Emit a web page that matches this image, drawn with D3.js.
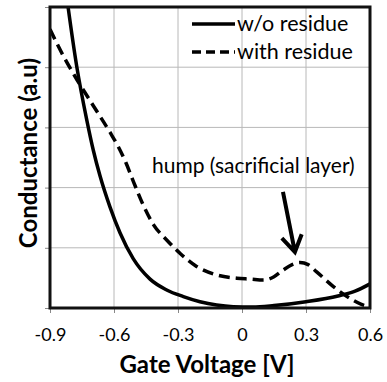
<!DOCTYPE html>
<html><head><meta charset="utf-8">
<script src="https://cdn.jsdelivr.net/npm/d3@7"></script>
<style>body{margin:0;background:#fff}svg{display:block}text{font-family:Lato,"Open Sans",sans-serif;fill:#000}</style>
</head><body>
<svg id="c" width="387" height="382"></svg>
<script>
const xTicks = [-0.9, -0.6, -0.3, 0, 0.3, 0.6];
const xTickLabels = ["-0.9", "-0.6", "-0.3", "0", "0.3", "0.6"];
const yTicks = [0, 1, 2, 3, 4, 5];
const seriesNames = ["w/o residue", "with residue"];
const solidV = [-0.834, -0.816, -0.775, -0.728, -0.697, -0.666, -0.619, -0.572, -0.51, -0.431, -0.353, -0.275, -0.197, -0.119, -0.041, 0.05, 0.15, 0.3, 0.45, 0.53, 0.6];
const solidG = [5.5, 5.02, 4.02, 3.13, 2.62, 2.2, 1.68, 1.25, 0.82, 0.48, 0.3, 0.19, 0.105, 0.05, 0.022, 0.015, 0.04, 0.105, 0.2, 0.28, 0.4];
const dashV = [-0.9, -0.838, -0.775, -0.697, -0.619, -0.58, -0.545, -0.509, -0.463, -0.416, -0.353, -0.291, -0.213, -0.119, -0.025, 0.04, 0.1, 0.15, 0.193, 0.235, 0.272, 0.31, 0.35, 0.427, 0.506, 0.56, 0.6];
const dashG = [4.63, 4.19, 3.8, 3.36, 2.92, 2.68, 2.42, 2.1, 1.71, 1.39, 1.13, 0.91, 0.69, 0.55, 0.495, 0.48, 0.465, 0.52, 0.63, 0.72, 0.755, 0.72, 0.6, 0.36, 0.16, 0.06, 0.02];
const annotation = {text: "hump (sacrificial layer)", labelV: -0.422, labelG: 2.25, fromV: 0.192, fromG: 1.93, toV: 0.248, toG: 0.93};

const m = {l: 50, t: 7, r: 17, b: 74};
const W = 387, H = 382;
const w = W - m.l - m.r, h = H - m.t - m.b;
const svg = d3.select("#c");
const x = d3.scaleLinear().domain([-0.9, 0.6]).range([m.l, m.l + w]);
const y = d3.scaleLinear().domain([0, 5]).range([m.t + h, m.t]);

svg.append("defs").append("clipPath").attr("id", "clip")
  .append("rect").attr("x", m.l).attr("y", m.t).attr("width", w).attr("height", h);

// gridlines
const g = svg.append("g");
g.selectAll(".gx").data(xTicks).join("line")
  .attr("x1", d => x(d)).attr("x2", d => x(d)).attr("y1", m.t).attr("y2", m.t + h)
  .attr("stroke", "#b8b8b8").attr("stroke-width", 1);
g.selectAll(".gy").data(yTicks).join("line")
  .attr("y1", d => y(d)).attr("y2", d => y(d)).attr("x1", m.l).attr("x2", m.l + w)
  .attr("stroke", "#b8b8b8").attr("stroke-width", 1);

// axes
const xAxis = svg.append("g").attr("transform", `translate(0,${m.t + h})`)
  .call(d3.axisBottom(x).tickValues(xTicks).tickFormat((d, i) => xTickLabels[i]).tickSize(5).tickPadding(15));
xAxis.select(".domain").remove();
xAxis.selectAll(".tick line").attr("stroke", "#888");
xAxis.selectAll("text").attr("font-size", 18).attr("font-family", "Lato");
const yAxis = svg.append("g").attr("transform", `translate(${m.l},0)`)
  .call(d3.axisLeft(y).tickValues(yTicks).tickFormat("").tickSize(5));
yAxis.select(".domain").remove();
yAxis.selectAll(".tick line").attr("stroke", "#888");

// lines
const line = d3.line().x(d => x(d[0])).y(d => y(d[1])).curve(d3.curveMonotoneX);
const plot = svg.append("g").attr("clip-path", "url(#clip)");
plot.append("path").datum(solidV.map((v, i) => [v, solidG[i]]))
  .attr("d", line).attr("fill", "none").attr("stroke", "#000").attr("stroke-width", 3.5);
plot.append("path").datum(dashV.map((v, i) => [v, dashG[i]]))
  .attr("d", line).attr("fill", "none").attr("stroke", "#000").attr("stroke-width", 3.5)
  .attr("stroke-dasharray", "11,6");

// frame
svg.append("rect").attr("x", m.l).attr("y", m.t).attr("width", w).attr("height", h)
  .attr("fill", "none").attr("stroke", "#111").attr("stroke-width", 3);

// legend
const leg = svg.append("g").attr("transform", `translate(${m.l + w - 178},${m.t + 17})`);
seriesNames.forEach((n, i) => {
  leg.append("line").attr("x1", 0).attr("x2", 43).attr("y1", i * 28).attr("y2", i * 28)
    .attr("stroke", "#000").attr("stroke-width", 3.5).attr("stroke-dasharray", i ? "9,5" : null);
  leg.append("text").attr("x", 45).attr("y", i * 28 + 7).attr("font-size", 21.5).text(n);
});

// annotation
svg.append("text").attr("x", x(annotation.labelV)).attr("y", y(annotation.labelG))
  .attr("font-size", 21).text(annotation.text);
const ax0 = x(annotation.fromV), ay0 = y(annotation.fromG), ax1 = x(annotation.toV), ay1 = y(annotation.toG);
const ang = Math.atan2(ay0 - ay1, ax0 - ax1), hl = 19, ha = Math.PI / 5.6;
svg.append("path")
  .attr("d", `M${ax0},${ay0}L${ax1},${ay1}M${ax1 + hl * Math.cos(ang - ha)},${ay1 + hl * Math.sin(ang - ha)}L${ax1},${ay1}L${ax1 + hl * Math.cos(ang + ha)},${ay1 + hl * Math.sin(ang + ha)}`)
  .attr("fill", "none").attr("stroke", "#000").attr("stroke-width", 4).attr("stroke-linejoin", "miter");

// titles
svg.append("text").attr("x", 207).attr("y", 373).attr("text-anchor", "middle")
  .attr("font-size", 24).attr("font-weight", "bold").text("Gate Voltage [V]");
svg.append("text").attr("transform", `translate(37,153)rotate(-90)`).attr("text-anchor", "middle")
  .attr("font-size", 24).attr("font-weight", "bold").text("Conductance (a.u)");
</script>
</body></html>
